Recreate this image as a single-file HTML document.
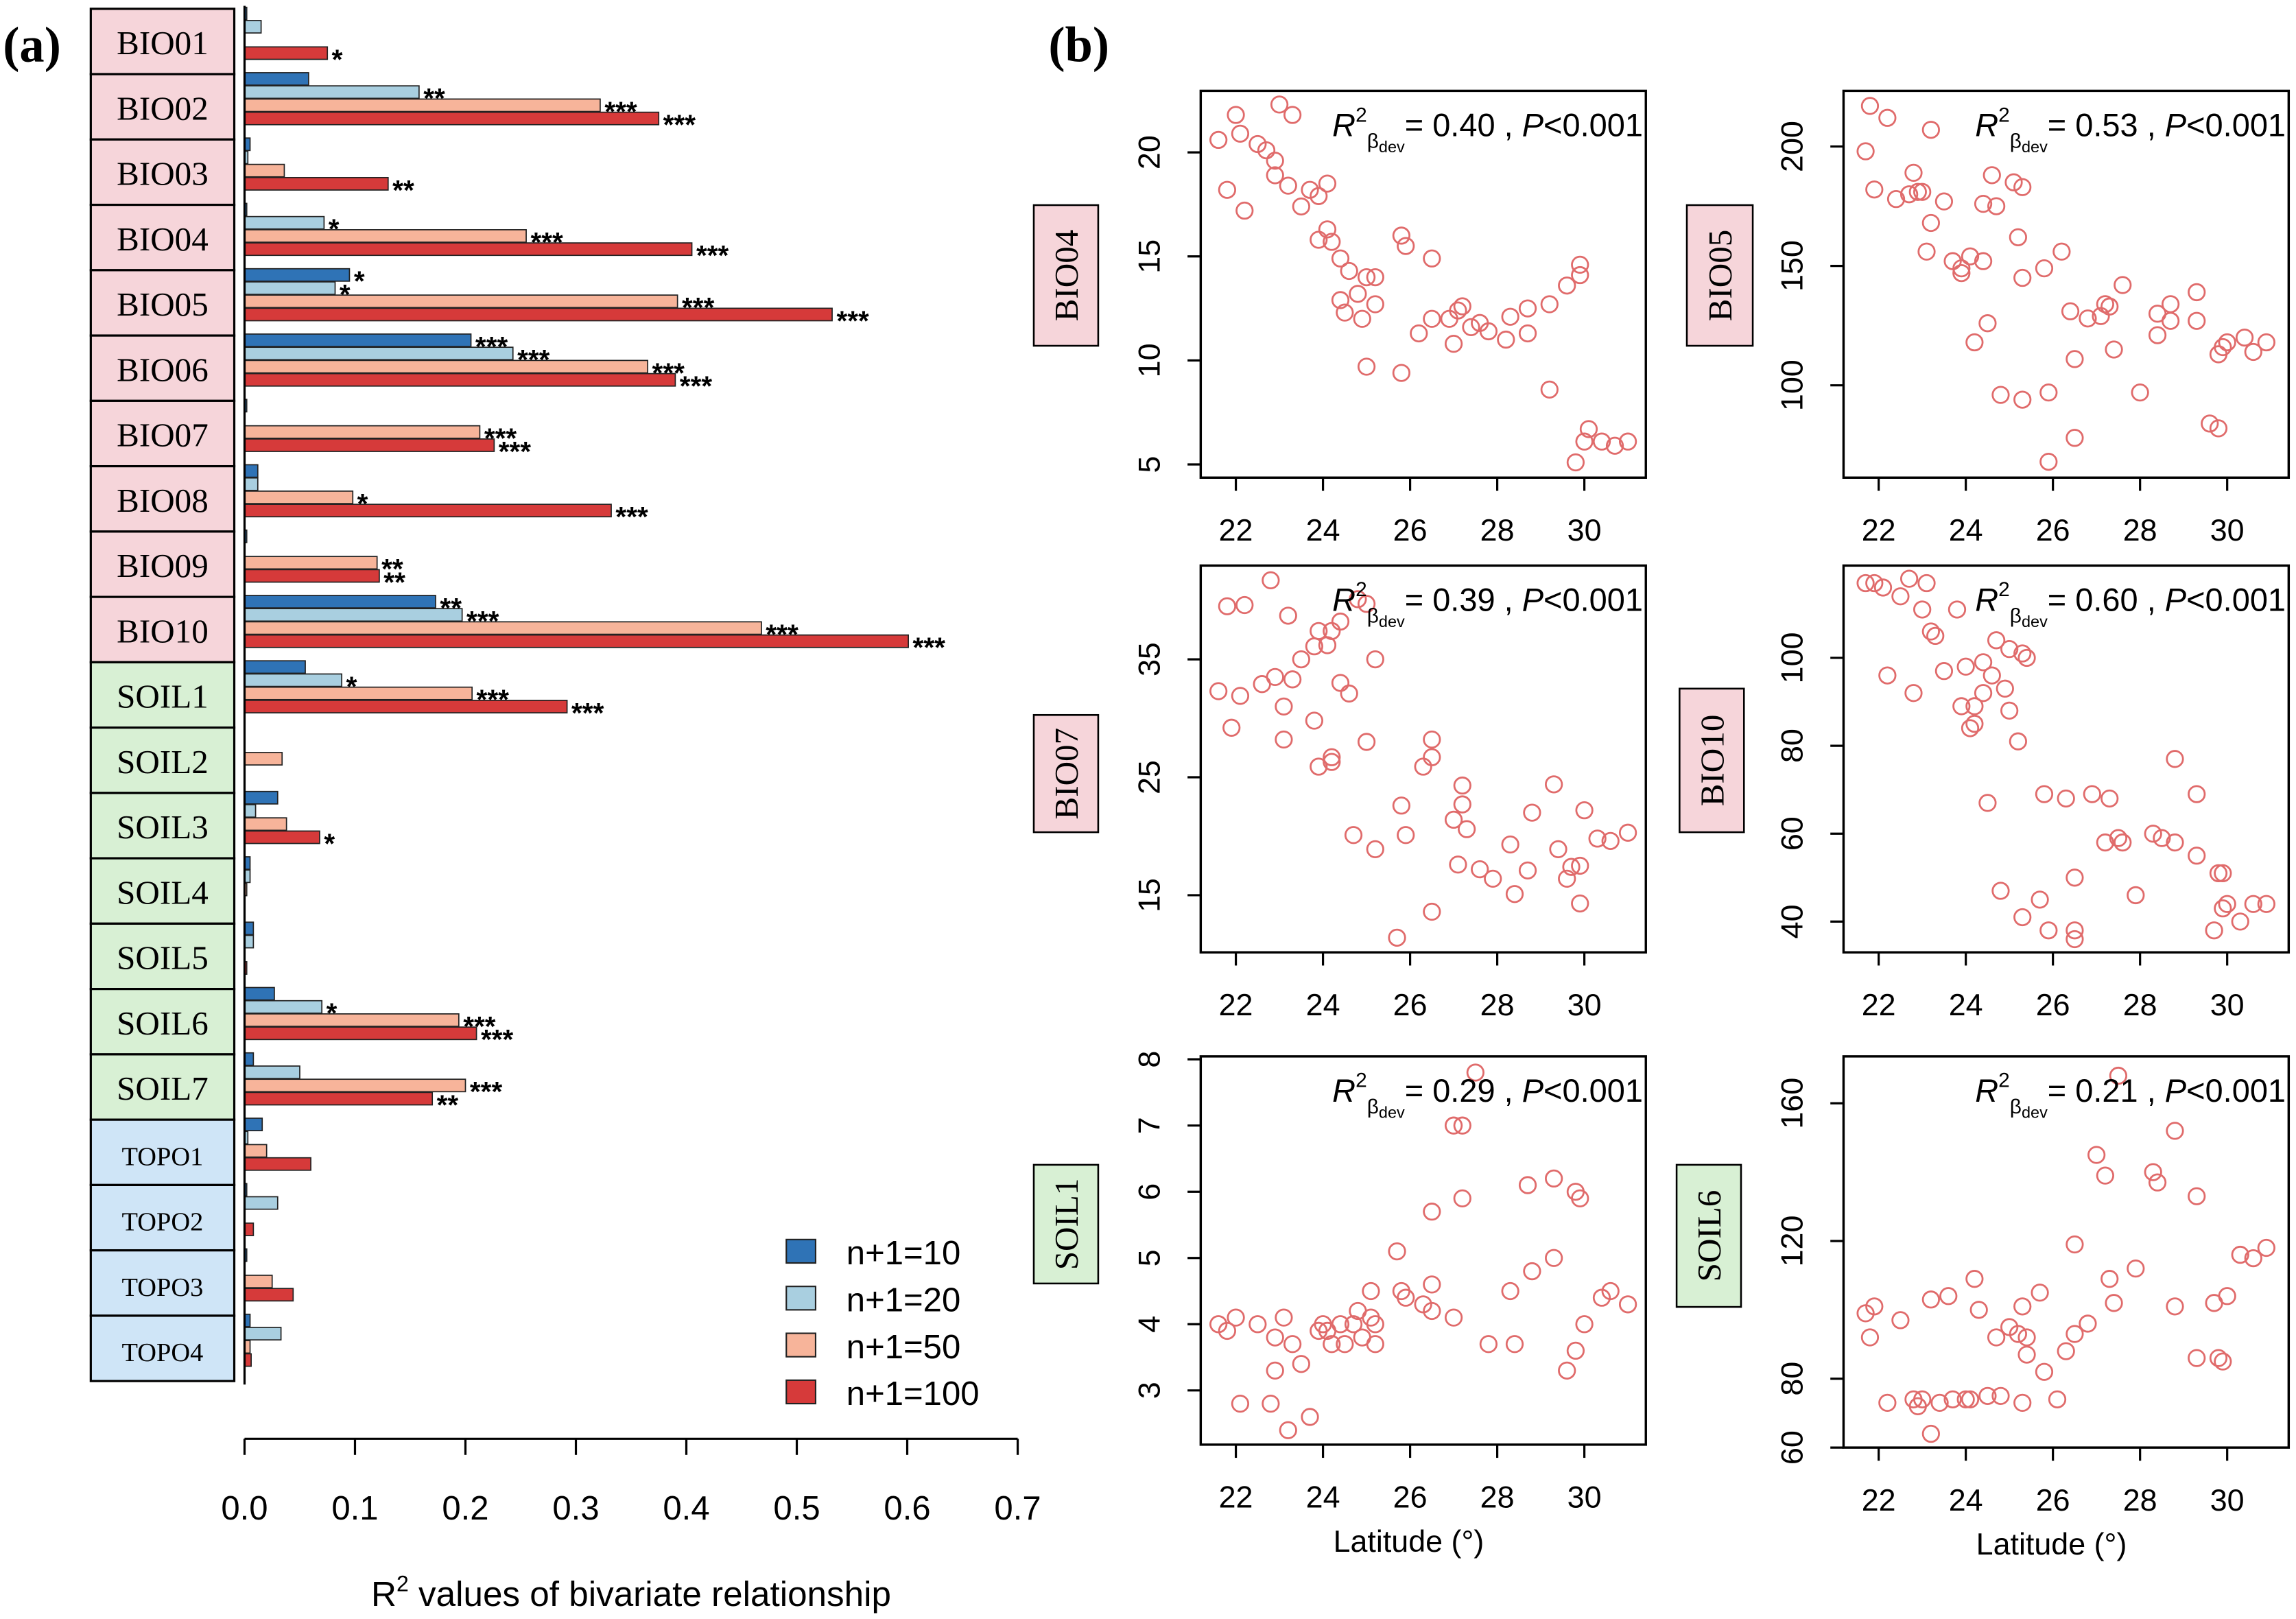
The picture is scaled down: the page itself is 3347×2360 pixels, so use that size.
<!DOCTYPE html>
<html><head><meta charset="utf-8"><style>
html,body{margin:0;padding:0;background:#fff;}
svg{display:block;}
text{font-family:"Liberation Sans",sans-serif;}
.serif{font-family:"Liberation Serif",serif;}
</style></head><body>
<svg id="fig" width="3347" height="2360" viewBox="0 0 1568 1105" preserveAspectRatio="none" xmlns="http://www.w3.org/2000/svg">
<rect width="1568" height="1105" fill="#fff"/>
<text class="serif" x="2" y="42" font-size="34" font-weight="bold">(a)</text>
<text class="serif" x="716" y="42" font-size="34" font-weight="bold">(b)</text>
<g id="pa"></g>
<g id="pb"></g>
</svg>
<script>
// ---- Panel (a) data ----
const categories = ["BIO01","BIO02","BIO03","BIO04","BIO05","BIO06","BIO07","BIO08","BIO09","BIO10","SOIL1","SOIL2","SOIL3","SOIL4","SOIL5","SOIL6","SOIL7","TOPO1","TOPO2","TOPO3","TOPO4"];
const seriesNames = ["n+1=10","n+1=20","n+1=50","n+1=100"];
const n10  = [0.002,0.058,0.005,0.002,0.095,0.205,0.002,0.012,0.002,0.173,0.055,0.0,0.03,0.005,0.008,0.027,0.008,0.016,0.002,0.002,0.005];
const n20  = [0.015,0.158,0.003,0.072,0.082,0.243,0.0,0.012,0.0,0.197,0.088,0.0,0.01,0.005,0.008,0.07,0.05,0.003,0.03,0.0,0.033];
const n50  = [0.0,0.322,0.036,0.255,0.392,0.365,0.213,0.098,0.12,0.468,0.206,0.034,0.038,0.002,0.0,0.194,0.2,0.02,0.0,0.025,0.005];
const n100 = [0.075,0.375,0.13,0.405,0.532,0.39,0.226,0.332,0.122,0.601,0.292,0.0,0.068,0.0,0.002,0.21,0.17,0.06,0.008,0.044,0.006];
const s10  = ["","","","","*","***","","","","**","","","","","","","","","","",""];
const s20  = ["","**","","*","*","***","","","","***","*","","","","","*","","","","",""];
const s50  = ["","***","","***","***","***","***","*","**","***","***","","","","","***","***","","","",""];
const s100 = ["*","***","**","***","***","***","***","***","**","***","***","","*","","","***","**","","","",""];
const xTicks = [0,0.1,0.2,0.3,0.4,0.5,0.6,0.7];
const xTickLabels = ["0.0","0.1","0.2","0.3","0.4","0.5","0.6","0.7"];

const NS="http://www.w3.org/2000/svg";
function mk(tag,attrs,parent,txt){const e=document.createElementNS(NS,tag);for(const k in attrs)e.setAttribute(k,attrs[k]);if(txt!==undefined)e.textContent=txt;parent.appendChild(e);return e;}
const pa=document.getElementById('pa');
const xA=v=>167+v*754.3;
const rowTop=i=>6+i*44.6;
const colors=["#2f73b6","#a9cfe0","#f7b49a","#d63a3a"];
const allS=[n10,n20,n50,n100], allStars=[s10,s20,s50,s100];
categories.forEach((c,i)=>{
  const fill=c.startsWith("BIO")?"#f6d5da":c.startsWith("SOIL")?"#d8f0d4":"#cfe5f7";
  const b=mk('rect',{x:62,y:rowTop(i),width:98,height:44.6,fill:fill,stroke:"#000","stroke-width":1.5},pa);
  
  
  const t=mk('text',{x:111,y:rowTop(i)+31,"text-anchor":"middle","font-size":c.startsWith("TOPO")?18:23,class:"serif"},pa,c);
  
  
  allS.forEach((s,k)=>{
    const y=rowTop(i)-1+k*9;
    const r=mk('rect',{x:167,y:y,width:Math.max(0,xA(s[i])-167),height:8.5,fill:colors[k],stroke:"#222","stroke-width":0.8},pa);
    
    
    if(allStars[k][i]){
      const st=mk('text',{x:xA(s[i])+3,y:y+15,"font-size":19,"font-weight":"bold"},pa,allStars[k][i]);
      
      
    }
  });
});
mk('line',{x1:167,y1:4,x2:167,y2:945,stroke:"#000","stroke-width":1.5},pa);
const xa=mk('line',{x1:xA(0),y1:982,x2:xA(0.7),y2:982,stroke:"#000","stroke-width":1.5},pa);


xTicks.forEach((v,i)=>{
  mk('line',{x1:xA(v),y1:982,x2:xA(v),y2:993,stroke:"#000","stroke-width":1.5},pa);
  const t=mk('text',{x:xA(v),y:1037,"text-anchor":"middle","font-size":23},pa,xTickLabels[i]);
  
  
});
const xt=mk('text',{x:431,y:1096,"text-anchor":"middle","font-size":24},pa);


mk('tspan',{},xt,"R");mk('tspan',{dy:-10,"font-size":15},xt,"2");mk('tspan',{dy:10},xt," values of bivariate relationship");
seriesNames.forEach((n,k)=>{
  const y=846+k*32;
  const r=mk('rect',{x:537,y:y,width:20,height:16,fill:colors[k],stroke:"#222","stroke-width":1},pa);
  
  
  const t=mk('text',{x:578,y:y+17,"font-size":23},pa,n);
  
  
});

// ---- Panel (b) data ----
const bio04Lat=[21.6,22,22.1,21.8,22.2,22.5,22.7,22.9,23.0,23.3,22.9,23.2,23.5,23.7,23.9,24.1,24.1,23.9,24.2,24.4,24.4,24.5,24.6,24.8,24.9,25.0,25.2,25.2,25.0,25.8,25.9,25.8,26.2,26.5,26.5,26.9,27.0,27.1,27.2,27.4,27.6,27.8,28.2,28.3,28.7,28.7,29.2,29.2,29.6,29.9,29.9,29.8,30.0,30.1,30.4,30.7,31.0];
const bio04Val=[20.6,21.8,20.9,18.2,17.2,20.4,20.1,19.6,22.3,21.8,18.9,18.4,17.4,18.2,17.9,18.5,16.3,15.8,15.7,14.9,12.9,12.3,14.3,13.2,12.0,14.0,14.0,12.7,9.7,16.0,15.5,9.4,11.3,14.9,12.0,12.0,10.8,12.4,12.6,11.6,11.8,11.4,11.0,12.1,11.3,12.5,12.7,8.6,13.6,14.1,14.6,5.1,6.1,6.7,6.1,5.9,6.1];
const bio05Lat=[21.8,22.2,21.7,21.9,22.4,22.7,22.8,22.9,23.0,23.2,23.2,23.5,23.1,23.7,23.9,24.1,23.9,24.4,24.4,24.5,24.2,24.6,24.7,25.1,25.3,25.2,25.3,24.8,25.3,25.8,26.2,25.9,26.4,26.5,26.5,26.8,27.1,27.2,27.3,27.4,27.6,28.0,28.4,28.4,28.7,28.7,29.3,29.3,29.6,29.8,29.8,29.9,30.0,30.4,30.6,30.9,25.9];
const bio05Val=[217,212,198,182,178,180,189,181,181,207,168,177,156,152,149,154,147,152,176,126,118,188,175,185,183,162,145,96,94,149,156,97,131,111,78,128,129,134,133,115,142,97,130,121,134,127,139,127,84,82,113,116,118,120,114,118,68];
const bio07Lat=[21.6,21.8,22.2,21.9,22.1,22.6,22.9,23.1,22.8,23.2,23.3,23.1,23.5,23.8,23.9,24.2,24.4,24.1,23.8,23.9,24.2,24.2,24.4,24.6,24.8,25.0,25.2,25.0,24.7,25.2,25.8,25.9,25.7,26.3,26.5,26.5,26.5,27.0,27.1,27.2,27.2,27.3,27.6,27.9,28.3,28.4,28.7,28.8,29.3,29.4,29.6,29.7,29.9,29.9,30.0,30.3,30.6,31.0];
const bio07Val=[32.3,39.5,39.6,29.2,31.9,32.9,33.5,31.0,41.7,38.7,33.3,28.2,35.0,36.1,37.4,37.4,38.2,36.2,29.8,25.9,26.7,26.3,33.0,32.1,40.1,39.7,35.0,28.0,20.1,18.9,22.6,20.1,11.4,25.9,26.7,28.2,13.6,21.4,17.6,22.7,24.3,20.6,17.2,16.4,19.3,15.1,17.1,22.0,24.4,18.9,16.4,17.4,17.5,14.3,22.2,19.8,19.6,20.3];
const bio10Lat=[21.7,21.9,22.1,22.2,22.5,22.7,22.8,23.0,23.2,23.3,23.1,23.5,23.8,23.9,24.0,24.1,24.2,24.2,24.4,24.6,24.4,24.7,25.0,24.9,25.0,25.2,25.3,25.4,24.5,24.8,25.3,25.8,25.7,25.9,26.3,26.5,26.5,26.5,26.9,27.3,27.2,27.5,27.6,27.9,28.3,28.5,28.8,28.8,29.3,29.3,29.7,29.8,29.9,29.9,30.0,30.3,30.6,30.9];
const bio10Val=[117,117,116,96,114,118,92,111,106,105,117,97,111,89,98,84,85,89,92,96,99,104,102,93,88,81,101,100,67,47,41,69,45,38,68,50,38,36,69,68,58,59,58,46,60,59,58,77,69,55,38,51,51,43,44,40,44,44];
const soil1Lat=[21.6,21.8,22.0,22.1,22.5,22.9,22.9,23.1,22.8,23.2,23.3,23.5,23.7,23.9,24.0,24.1,24.2,24.4,24.5,24.7,24.8,24.9,25.1,25.1,25.2,25.2,25.7,25.8,25.9,26.3,26.5,26.5,26.5,27.0,27.0,27.2,27.2,27.5,27.8,28.3,28.4,28.7,28.8,29.3,29.3,29.6,29.8,29.8,29.9,30.0,30.4,30.6,31.0];
const soil1Val=[4.0,3.9,4.1,2.8,4.0,3.3,3.8,4.1,2.8,2.4,3.7,3.4,2.6,3.9,4.0,3.9,3.7,4.0,3.7,4.0,4.2,3.8,4.1,4.5,3.7,4.0,5.1,4.5,4.4,4.3,4.6,4.2,5.7,4.1,7.0,7.0,5.9,7.8,3.7,4.5,3.7,6.1,4.8,5.0,6.2,3.3,3.6,6.0,5.9,4.0,4.4,4.5,4.3];
const soil6Lat=[21.7,21.9,21.8,22.2,22.5,22.8,22.9,23.0,23.2,23.2,23.4,23.6,23.7,24.0,24.1,24.2,24.3,24.5,24.7,24.8,25.0,25.2,25.3,25.3,25.4,25.4,25.7,25.8,26.1,26.3,26.5,26.5,26.8,27.0,27.2,27.3,27.5,27.4,27.9,28.3,28.4,28.8,28.8,29.3,29.3,29.7,29.8,29.9,30.0,30.3,30.6,30.9];
const soil6Val=[99,101,92,73,97,74,72,74,103,64,73,104,74,74,74,109,100,75,92,75,95,93,73,101,92,87,105,82,74,88,119,93,96,145,139,109,168,102,112,140,137,152,101,133,86,102,86,85,104,116,115,118];
const xTicksB=[22,24,26,28,30];
const ticks04=[5,10,15,20], ticks05=[100,150,200], ticks07=[15,25,35], ticks10=[40,60,80,100], ticksS1=[3,4,5,6,7,8], ticksS6=[60,80,120,160];
const r2Labels=["0.40","0.53","0.39","0.60","0.29","0.21"];

const pb=document.getElementById('pb');
const panels=[
 {lat:bio04Lat,val:bio04Val,ticks:ticks04,name:"BIO04",x0:820,y0:62,h:264,ya:[20,104,5,317],lab:[706,140,44,96],kind:"bio",xl:false,r2:r2Labels[0]},
 {lat:bio05Lat,val:bio05Val,ticks:ticks05,name:"BIO05",x0:1259,y0:62,h:264,ya:[200,100,100,263],lab:[1152,140,45,96],kind:"bio",xl:false,r2:r2Labels[1]},
 {lat:bio07Lat,val:bio07Val,ticks:ticks07,name:"BIO07",x0:820,y0:386,h:264,ya:[35,450,15,611],lab:[706,488,44,80],kind:"bio",xl:false,r2:r2Labels[2]},
 {lat:bio10Lat,val:bio10Val,ticks:ticks10,name:"BIO10",x0:1259,y0:386,h:264,ya:[100,449,40,629],lab:[1147,470,44,98],kind:"bio",xl:false,r2:r2Labels[3]},
 {lat:soil1Lat,val:soil1Val,ticks:ticksS1,name:"SOIL1",x0:820,y0:721,h:265,ya:[8,723,3,949],lab:[706,795,44,81],kind:"soil",xl:true,r2:r2Labels[4]},
 {lat:soil6Lat,val:soil6Val,ticks:ticksS6,name:"SOIL6",x0:1259,y0:721,h:267,ya:[160,753,80,941],lab:[1145,795,44,97],kind:"soil",xl:true,r2:r2Labels[5]}
];
panels.forEach(p=>{
  const g=mk('g',{},pb);
  
  
  const xS=v=>p.x0+24+(v-22)*29.75;
  const yS=v=>p.ya[1]+(v-p.ya[0])*(p.ya[3]-p.ya[1])/(p.ya[2]-p.ya[0]);
  const w=304;
  mk('rect',{x:p.x0,y:p.y0,width:w,height:p.h,fill:"none",stroke:"#000","stroke-width":1.6},g);
  const yb=p.y0+p.h;
  xTicksB.forEach(v=>{
    mk('line',{x1:xS(v),y1:yb,x2:xS(v),y2:yb+9,stroke:"#000","stroke-width":1.5},g);
    const t=mk('text',{x:xS(v),y:yb+43,"text-anchor":"middle","font-size":21},g,String(v));
    
    
  });
  p.ticks.forEach(v=>{
    const y=yS(v);
    mk('line',{x1:p.x0,y1:y,x2:p.x0-9,y2:y,stroke:"#000","stroke-width":1.5},g);
    const t=mk('text',{x:p.x0-28,y:y,"text-anchor":"middle","font-size":21,transform:`rotate(-90 ${p.x0-28} ${y})`},g,String(v));
    
    
  });
  p.lat.forEach((la,i)=>{
    const c=mk('circle',{cx:xS(la),cy:yS(p.val[i]),r:5.5,fill:"none",stroke:"#e06b6b","stroke-width":1.3},g);
    
    
  });
  const a=mk('text',{x:p.x0+w-2,y:p.y0+31,"text-anchor":"end","font-size":22},g);
  
  
  mk('tspan',{"font-style":"italic"},a,"R");
  mk('tspan',{dy:-10,"font-size":14},a,"2");
  mk('tspan',{dy:18,"font-size":14},a,"β");
  mk('tspan',{dy:3,"font-size":11},a,"dev");
  mk('tspan',{dy:-11},a,"= "+p.r2+" , ");
  mk('tspan',{"font-style":"italic"},a,"P");
  mk('tspan',{},a,"<0.001");
  const L=p.lab;
  const lb=mk('rect',{x:L[0],y:L[1],width:L[2],height:L[3],fill:p.kind==="bio"?"#f6d5da":"#d8f0d4",stroke:"#000","stroke-width":1.2},g);
  
  
  const cx=L[0]+L[2]/2+8, cy=L[1]+L[3]/2;
  const lt=mk('text',{x:cx,y:cy,"text-anchor":"middle","font-size":23,class:"serif",transform:`rotate(-90 ${cx} ${cy})`},g,p.name);
  
  
  if(p.xl){
    const xl=mk('text',{x:p.x0+w/2-10,y:yb+73,"text-anchor":"middle","font-size":21},g,"Latitude (°)");
    
    
  }
});
</script>
</body></html>
